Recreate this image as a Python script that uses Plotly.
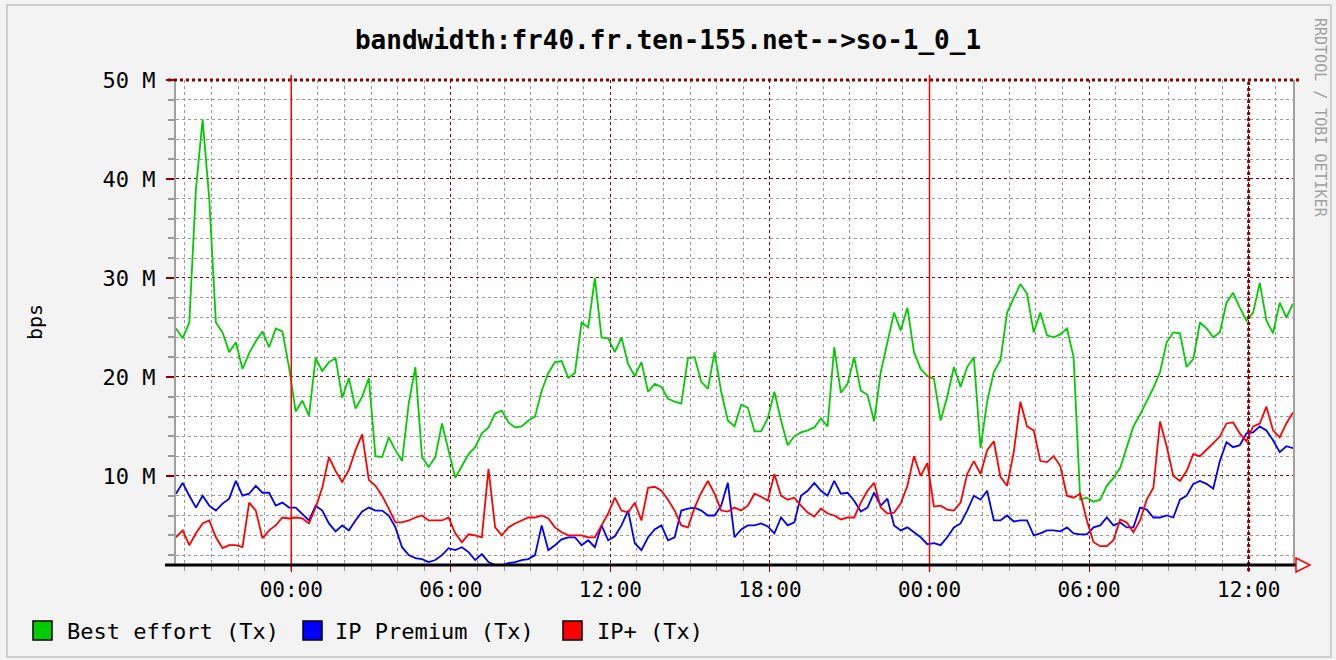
import plotly.graph_objects as go
import pandas as pd

# ---------------- data ----------------
chart_title = "bandwidth:fr40.fr.ten-155.net-->so-1_0_1"
y_axis_label = "bps"
watermark = "RRDTOOL / TOBI OETIKER"
series_names = ["Best effort (Tx)", "IP Premium (Tx)", "IP+ (Tx)"]

sample_start = "2005-03-14 19:40"
sample_step = "15min"
x_range = ["2005-03-14 19:40", "2005-03-16 13:40"]
midnight_rules = ["2005-03-15 00:00", "2005-03-16 00:00"]
noon_rule = "2005-03-16 12:00"

# values in Mbit/s
best_effort_mbps = [
    24.9, 23.9, 25.5, 39.0, 46.0, 38.0, 25.5, 24.5, 22.5, 23.5,
    20.8, 22.4, 23.6, 24.6, 23.0, 24.9, 24.6, 21.0, 16.5, 17.6,
    16.1, 21.9, 20.6, 21.5, 21.9, 17.9, 19.9, 16.8, 18.0, 19.9,
    12.0, 11.9, 13.9, 12.6, 11.5, 17.3, 21.0, 11.9, 10.9, 11.9,
    15.3, 12.6, 9.8, 11.0, 12.2, 12.9, 14.3, 14.9, 16.3, 16.6,
    15.4, 14.9, 15.0, 15.6, 16.0, 18.6, 20.4, 21.5, 21.6, 19.9,
    20.4, 25.5, 25.0, 30.0, 24.0, 23.9, 22.5, 24.0, 21.3, 20.1,
    21.5, 18.5, 19.3, 19.0, 17.8, 17.5, 17.3, 21.9, 22.0, 19.5,
    18.8, 22.5, 18.5, 15.6, 15.0, 17.2, 16.9, 14.5, 14.5, 15.8,
    18.5, 15.6, 13.1, 14.0, 14.4, 14.6, 14.9, 15.8, 15.0, 23.0,
    18.4, 19.3, 22.0, 18.6, 18.2, 15.5, 20.5, 23.5, 26.5, 24.7,
    27.0, 22.5, 20.8, 20.1, 19.8, 15.6, 18.0, 21.0, 19.0, 21.0,
    22.0, 12.8, 17.5, 20.5, 21.7, 26.5, 27.9, 29.4, 28.4, 24.5,
    26.5, 24.2, 24.0, 24.3, 24.9, 22.0, 7.6, 7.8, 7.4, 7.6,
    9.0, 9.8, 10.8, 12.8, 15.0, 16.2, 17.6, 18.9, 20.5, 23.5,
    24.5, 24.4, 21.0, 21.8, 25.5, 24.9, 24.0, 24.5, 27.5, 28.5,
    27.0, 25.7, 26.5, 29.5, 25.7, 24.4, 27.5, 26.0, 27.4,
]
ip_premium_mbps = [
    8.2, 9.3, 8.0, 6.8, 8.0, 7.0, 6.5, 7.2, 7.7, 9.5,
    8.0, 8.2, 9.0, 8.3, 8.3, 7.0, 7.3, 6.8, 6.8, 6.2,
    5.5, 7.0, 6.5, 5.2, 4.4, 5.0, 4.5, 5.5, 6.4, 6.8,
    6.5, 6.5, 6.0, 4.8, 2.8, 2.0, 1.7, 1.6, 1.3, 1.5,
    2.0, 2.7, 2.5, 2.8, 2.3, 1.5, 2.1, 1.3, 1.0, 1.0,
    1.2, 1.3, 1.5, 1.6, 2.0, 5.0, 2.5, 3.0, 3.6, 3.8,
    3.8, 3.0, 3.5, 2.8, 5.0, 3.5, 3.9, 5.0, 6.5, 3.2,
    2.5, 3.8, 4.6, 5.0, 3.5, 3.8, 6.5, 6.7, 6.8, 6.5,
    6.0, 6.0, 7.0, 9.3, 3.8, 4.6, 5.0, 5.0, 5.2, 4.9,
    4.2, 5.8, 5.0, 5.3, 8.0, 8.5, 9.3, 8.5, 8.0, 9.5,
    8.2, 8.3, 7.5, 6.4, 6.8, 8.3, 7.0, 7.7, 5.0, 4.5,
    4.8, 4.3, 3.8, 3.1, 3.2, 3.0, 3.8, 4.8, 5.2, 6.5,
    8.0, 7.6, 8.5, 5.5, 5.5, 6.0, 5.4, 5.5, 5.5, 4.0,
    4.2, 4.5, 4.5, 4.4, 4.8, 4.2, 4.1, 4.1, 4.8, 5.0,
    5.8, 5.0, 5.3, 4.8, 4.8, 6.8, 6.6, 5.8, 5.8, 6.0,
    5.8, 7.6, 8.0, 9.2, 9.5, 9.2, 8.7, 11.5, 13.4, 12.9,
    13.1, 14.3, 14.4, 15.0, 14.6, 13.6, 12.4, 13.0, 12.8,
]
ip_plus_mbps = [
    3.8, 4.5, 3.0, 4.2, 5.2, 5.5, 3.8, 2.7, 3.0, 3.0,
    2.8, 7.3, 6.5, 3.7, 4.5, 5.0, 5.8, 5.7, 5.8, 5.7,
    5.2, 6.8, 8.8, 11.9, 10.5, 9.4, 10.6, 12.6, 14.2, 9.6,
    9.0, 8.0, 6.7, 5.3, 5.3, 5.5, 5.8, 6.0, 5.5, 5.5,
    5.5, 5.8, 4.2, 3.3, 4.1, 4.0, 3.8, 10.7, 4.8, 4.0,
    4.8, 5.2, 5.5, 5.8, 5.8, 6.0, 5.7, 4.8, 4.3, 4.0,
    4.0, 4.0, 3.8, 3.8, 5.0, 6.2, 7.8, 6.5, 6.3, 7.3,
    5.5, 8.8, 8.9, 8.5, 7.6, 6.5, 5.0, 4.8, 6.8, 8.3,
    9.5, 8.2, 6.5, 6.4, 6.8, 6.5, 7.0, 8.2, 7.9, 7.5,
    10.2, 8.0, 7.6, 7.8, 7.0, 6.3, 5.9, 6.7, 6.2, 6.0,
    5.6, 5.8, 5.8, 7.3, 8.5, 9.3, 6.8, 6.2, 6.3, 7.2,
    9.0, 12.0, 10.0, 11.3, 6.9, 7.0, 6.6, 6.5, 7.3, 10.2,
    11.5, 10.2, 12.6, 13.5, 9.9, 9.0, 12.4, 17.5, 15.0, 14.6,
    11.5, 11.4, 12.0, 11.0, 8.0, 7.8, 8.2, 5.5, 3.3, 2.9,
    2.9, 3.5, 5.6, 5.3, 4.3, 5.5, 7.6, 8.8, 15.5, 13.0,
    10.0, 9.5, 10.5, 12.2, 12.0, 12.6, 13.3, 14.0, 15.3, 15.4,
    14.3, 13.5, 15.0, 15.3, 17.0, 14.6, 13.9, 15.3, 16.4,
]

y_min_bps = 1.0e6
y_max_bps = 50e6
y_tick_values = [10e6, 20e6, 30e6, 40e6, 50e6]
y_tick_labels = ["10 M", "20 M", "30 M", "40 M", "50 M"]

# ---------------- style ----------------
series_colors = ["#00cc00", "#0000ff", "#ff0000"]
FONT = "DejaVu Sans Mono"
DARKRED = "#8b0000"
MINOR = "#9a9a9a"

W, H = 1336, 660
L, R, T, B = 176, 1293, 80, 565
PW, PH = R - L, B - T


def pxx(px):
    return (px - L) / PW


def pxy(py):
    return (B - py) / PH


times = pd.date_range(sample_start, periods=len(best_effort_mbps), freq=sample_step)

fig = go.Figure()
for name, vals, col in zip(series_names,
                           [best_effort_mbps, ip_premium_mbps, ip_plus_mbps],
                           series_colors):
    fig.add_trace(go.Scatter(
        x=times, y=[v * 1e6 for v in vals], name=name, mode="lines",
        line=dict(color=col, width=1.8), showlegend=False,
    ))

shapes = []
# outer frame
shapes.append(dict(type="rect", xref="paper", yref="paper",
                   x0=pxx(7), x1=pxx(1331), y0=pxy(5), y1=pxy(657),
                   line=dict(color="#cfcfcf", width=2), fillcolor="rgba(0,0,0,0)",
                   layer="above"))
# top border (50 M)
shapes.append(dict(type="line", xref="paper", yref="paper",
                   x0=pxx(168), x1=pxx(1300), y0=1, y1=1,
                   line=dict(color=DARKRED, width=3, dash="dot")))
# midnight rules
for t in midnight_rules:
    shapes.append(dict(type="line", xref="x", yref="paper", x0=t, x1=t,
                       y0=pxy(571), y1=pxy(75),
                       line=dict(color="#ff0000", width=1.5)))
# thick noon rule
shapes.append(dict(type="line", xref="x", yref="paper", x0=noon_rule, x1=noon_rule,
                   y0=pxy(571), y1=pxy(80),
                   line=dict(color=DARKRED, width=3, dash="dot")))
# bottom black axis
shapes.append(dict(type="line", xref="paper", yref="paper",
                   x0=pxx(165), x1=pxx(1296), y0=0, y1=0,
                   line=dict(color="black", width=3)))
# arrow at end of x axis
shapes.append(dict(type="path", xref="paper", yref="paper",
                   path=f"M {pxx(1296)},{pxy(558)} L {pxx(1310)},{pxy(565)} L {pxx(1296)},{pxy(572)} Z",
                   line=dict(color="#ff0000", width=1.5), fillcolor="white"))

annotations = []
# y axis label
annotations.append(dict(text=y_axis_label, xref="paper", yref="paper",
                        x=pxx(35), y=pxy(322), showarrow=False, textangle=-90,
                        font=dict(family=FONT, size=20, color="black"),
                        xanchor="center", yanchor="middle"))
# watermark
annotations.append(dict(text=watermark, xref="paper", yref="paper",
                        x=pxx(1320), y=pxy(16), showarrow=False, textangle=90,
                        font=dict(family=FONT, size=15, color="#a0a0a0"),
                        xanchor="center", yanchor="top"))
# legend (manual, square swatches)
legend_sq_x = [33, 303, 563]
legend_tx_x = [65, 333, 595]
for name, col, sx, tx in zip(series_names, series_colors, legend_sq_x, legend_tx_x):
    shapes.append(dict(type="rect", xref="paper", yref="paper",
                       x0=pxx(sx), x1=pxx(sx + 19), y0=pxy(640), y1=pxy(621),
                       fillcolor=col, line=dict(color="black", width=1.5)))
    annotations.append(dict(text=name, xref="paper", yref="paper",
                            x=pxx(tx), y=pxy(631), showarrow=False,
                            xanchor="left", yanchor="middle",
                            font=dict(family=FONT, size=22, color="black")))

fig.update_layout(
    width=W, height=H,
    margin=dict(l=L, r=W - R, t=T, b=H - B, pad=0),
    paper_bgcolor="#f3f3f3",
    plot_bgcolor="white",
    title=dict(text=f"<b>{chart_title}</b>", xref="container", yref="container",
               x=0.5, y=1 - 40 / H, xanchor="center", yanchor="middle",
               font=dict(family=FONT, size=26, color="black")),
    font=dict(family=FONT, color="black"),
    shapes=shapes,
    annotations=annotations,
    showlegend=False,
)

fig.update_xaxes(
    type="date", range=x_range,
    tick0="2005-03-15 00:00", dtick=6 * 3600 * 1000, tickformat="%H:%M",
    showgrid=True, gridcolor=DARKRED, griddash="dot", gridwidth=1,
    ticks="outside", ticklen=6, tickcolor=DARKRED, tickwidth=1,
    tickfont=dict(family=FONT, size=21, color="black"),
    minor=dict(dtick=3600 * 1000, tick0="2005-03-15 00:00", showgrid=True,
               gridcolor=MINOR, griddash="dot", gridwidth=1,
               ticks="outside", ticklen=5, tickcolor=MINOR),
    showline=False, zeroline=False,
)
fig.update_yaxes(
    range=[y_min_bps, y_max_bps],
    tickvals=y_tick_values, ticktext=y_tick_labels,
    showgrid=True, gridcolor=DARKRED, griddash="dot", gridwidth=1,
    ticks="outside", ticklen=8, tickcolor=DARKRED, tickwidth=2,
    ticklabelstandoff=6,
    tickfont=dict(family=FONT, size=22, color="black"),
    minor=dict(tick0=0, dtick=2e6, showgrid=True, gridcolor=MINOR,
               griddash="dot", gridwidth=1, ticks="outside", ticklen=6,
               tickcolor=MINOR),
    showline=True, linecolor="#a0a0a0", linewidth=2, mirror=True,
    zeroline=False,
)

fig.write_html("out.html", config={"displayModeBar": False},
               post_script="document.body.style.margin='0';")
